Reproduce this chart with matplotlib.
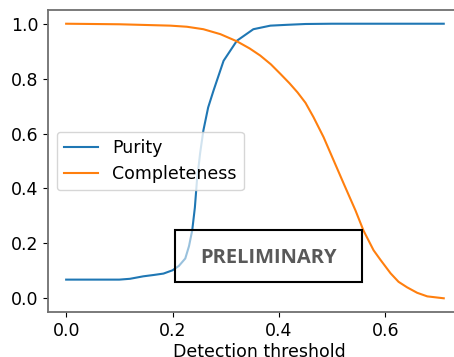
import matplotlib
matplotlib.use("Agg")
import matplotlib.pyplot as plt
from matplotlib.patches import Rectangle

# purity curve
purity_x = [0.0, 0.05, 0.10, 0.12, 0.145, 0.165, 0.183, 0.20, 0.212, 0.224, 0.231,
            0.237, 0.242, 0.246, 0.252, 0.258, 0.267, 0.277, 0.296, 0.321, 0.352,
            0.384, 0.415, 0.45, 0.50, 0.60, 0.71]
purity_y = [0.068, 0.068, 0.068, 0.071, 0.08, 0.085, 0.09, 0.102, 0.118, 0.145, 0.19,
            0.247, 0.33, 0.43, 0.53, 0.611, 0.695, 0.756, 0.865, 0.938, 0.98,
            0.993, 0.996, 0.999, 1.0, 1.0, 1.0]

# completeness curve
compl_x = [0.0, 0.10, 0.196, 0.227, 0.258, 0.29, 0.321, 0.345, 0.365, 0.385, 0.403,
           0.42, 0.435, 0.45, 0.465, 0.484, 0.503, 0.522, 0.544, 0.559, 0.578, 0.591,
           0.61, 0.625, 0.641, 0.66, 0.679, 0.71]
compl_y = [1.0, 0.998, 0.993, 0.989, 0.98, 0.962, 0.936, 0.91, 0.884, 0.852, 0.817,
           0.783, 0.75, 0.712, 0.66, 0.587, 0.502, 0.417, 0.32, 0.247, 0.175, 0.14,
           0.091, 0.06, 0.04, 0.02, 0.007, 0.0]

plt.rcParams["font.size"] = 12.5

fig = plt.figure(figsize=(4.54, 3.57), dpi=100)
ax = fig.add_axes([0.106, 0.126, 0.93, 0.846])

ax.plot(purity_x, purity_y, color="#1f77b4", label="Purity")
ax.plot(compl_x, compl_y, color="#ff7f0e", label="Completeness")

ax.set_xlim(-0.0339, 0.760)
ax.set_xticks([0.0, 0.2, 0.4, 0.6])
ax.set_yticks([0.0, 0.2, 0.4, 0.6, 0.8, 1.0])
ax.set_xlabel("Detection threshold", labelpad=2)
for s in ax.spines.values():
    s.set_color("#707070")
    s.set_linewidth(1.3)

ax.legend(loc="center left")

# preliminary stamp
ax.add_patch(Rectangle((0.205, 0.058), 0.352, 0.19, facecolor="white",
                       alpha=0.55, edgecolor="none", zorder=3))
ax.add_patch(Rectangle((0.205, 0.058), 0.352, 0.19, fill=False,
                       edgecolor="black", linewidth=1.5, zorder=4))
ax.text(0.381, 0.148, "PRELIMINARY", ha="center", va="center",
        fontsize=14.5, fontweight="bold", color="#595959", family="Open Sans",
        zorder=5)

fig.savefig("out.png", dpi=100)
